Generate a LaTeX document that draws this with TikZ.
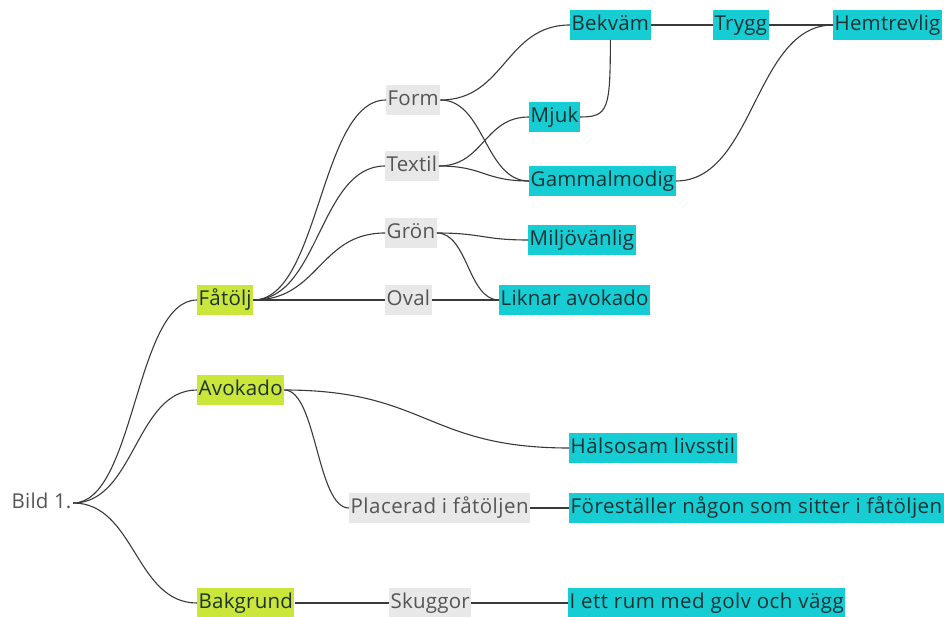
\documentclass[tikz,border=0pt]{standalone}
\usepackage{fontspec}
\setmainfont[LetterSpace=1.0]{Open Sans}
\usetikzlibrary{calc}
\definecolor{limefill}{RGB}{202,230,58}
\definecolor{cyanfill}{RGB}{22,205,212}
\definecolor{grayfill}{RGB}{232,232,232}
\definecolor{darktext}{RGB}{30,50,52}
\definecolor{graytext}{RGB}{85,85,85}
\definecolor{linkcol}{RGB}{58,58,58}
\begin{document}
\begin{tikzpicture}[x=1pt,y=-1pt,
  every node/.style={font=\fontsize{20.5}{24}\selectfont, anchor=west,
    inner xsep=1.5pt, inner ysep=5pt, text height=15pt, text depth=4.5pt},
  spaced/.style={font=\fontsize{20.5}{24}\selectfont\addfontfeatures{LetterSpace=2.3}},
  rootbox/.style={text=graytext},
  topicbox/.style={fill=limefill, text=darktext},
  aspectbox/.style={fill=grayfill, text=graytext},
  ideabox/.style={fill=cyanfill, text=darktext},
  link/.style={draw=linkcol, line width=1.1pt},
  curve/.style={to path={let \p1=(\tikztostart), \p2=(\tikztotarget) in
    .. controls ({0.5*\x1+0.5*\x2},\y1) and ({0.5*\x1+0.5*\x2},\y2) .. (\tikztotarget)}}
]
\useasboundingbox (0,0) rectangle (944,617);

% root
\node[rootbox] (bild) at (10,503) {Bild 1.};

% main topics
\node[topicbox] (fatolj)   at (197,300) {Fåtölj};
\node[topicbox] (avokado)  at (197,390) {Avokado};
\node[topicbox] (bakgrund) at (197,603) {Bakgrund};

% aspects
\node[aspectbox] (form)     at (386,100) {Form};
\node[aspectbox] (textil)   at (385,166) {Textil};
\node[aspectbox] (gron)     at (385,233) {Grön};
\node[aspectbox] (oval)     at (385,300) {Oval};
\node[aspectbox, spaced] (placerad) at (349,508) {Placerad i fåtöljen};
\node[aspectbox] (skuggor)  at (389,603) {Skuggor};

% associations
\node[ideabox] (bekvam)     at (570,25)  {Bekväm};
\node[ideabox] (trygg)      at (713,25)  {Trygg};
\node[ideabox] (hemtrevlig) at (833,25)  {Hemtrevlig};
\node[ideabox] (mjuk)       at (529,117) {Mjuk};
\node[ideabox] (gammal)     at (529,181) {Gammalmodig};
\node[ideabox] (miljo)      at (528,240) {Miljövänlig};
\node[ideabox] (liknar)     at (499,300) {Liknar avokado};
\node[ideabox, spaced] (halsosam)   at (569,448) {Hälsosam livsstil};
\node[ideabox, spaced] (forestaller) at (569,508) {Föreställer någon som sitter i fåtöljen};
\node[ideabox, spaced] (irum)       at (568,603) {I ett rum med golv och vägg};

% connectors
\begin{scope}[link]
  \draw (bild.east) to[curve] (fatolj.west);
  \draw (bild.east) to[curve] (avokado.west);
  \draw (bild.east) to[curve] (bakgrund.west);

  \draw (fatolj.east) to[curve] (form.west);
  \draw (fatolj.east) to[curve] (textil.west);
  \draw (fatolj.east) to[curve] (gron.west);
  \draw (fatolj.east) -- (oval.west);

  \draw (form.east) to[curve] (bekvam.west);
  \draw (form.east) to[curve] (gammal.west);
  \draw (textil.east) to[curve] (mjuk.west);
  \draw (textil.east) to[curve] (gammal.west);

  \draw (bekvam.east) -- (trygg.west);
  \draw (trygg.east) -- (hemtrevlig.west);
  \draw (bekvam.south) .. controls +(0,70) and +(28,0) .. (mjuk.east);
  \draw (gammal.east) to[curve] (hemtrevlig.west);

  \draw (gron.east) to[curve] (miljo.west);
  \draw (gron.east) to[curve] (liknar.west);
  \draw (oval.east) -- (liknar.west);

  \draw (avokado.east) to[curve] (halsosam.west);
  \draw (avokado.east) to[curve] (placerad.west);
  \draw (placerad.east) -- (forestaller.west);

  \draw (bakgrund.east) -- (skuggor.west);
  \draw (skuggor.east) -- (irum.west);
\end{scope}
\end{tikzpicture}
\end{document}
